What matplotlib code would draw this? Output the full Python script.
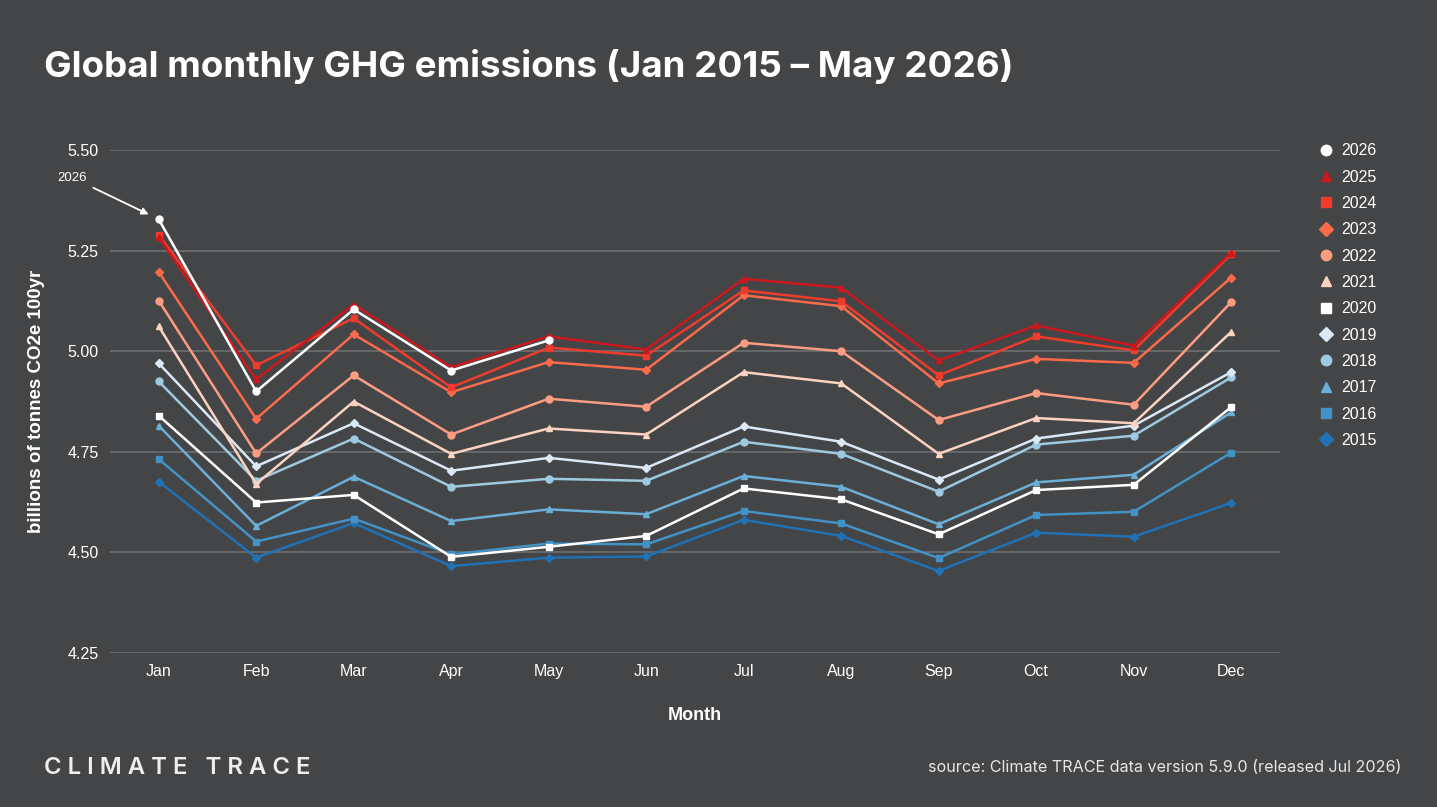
#!/usr/bin/env python3
"""
Global monthly GHG emissions by year, Climate TRACE style dark chart
"""

import matplotlib
matplotlib.use('Agg')
import matplotlib.pyplot as plt

# Data (billions of tonnes CO2e 100yr)
months = ['Jan', 'Feb', 'Mar', 'Apr', 'May', 'Jun', 'Jul', 'Aug', 'Sep', 'Oct', 'Nov', 'Dec']

y2026 = [5.328, 4.900, 5.104, 4.952, 5.027]
y2025 = [5.283, 4.930, 5.116, 4.960, 5.037, 5.004, 5.180, 5.158, 4.977, 5.064, 5.014, 5.245]
y2024 = [5.289, 4.965, 5.082, 4.910, 5.009, 4.989, 5.151, 5.124, 4.940, 5.037, 5.002, 5.241]
y2023 = [5.197, 4.832, 5.042, 4.898, 4.973, 4.954, 5.139, 5.112, 4.920, 4.981, 4.971, 5.183]
y2022 = [5.126, 4.746, 4.940, 4.793, 4.882, 4.862, 5.021, 5.000, 4.829, 4.896, 4.867, 5.122]
y2021 = [5.062, 4.670, 4.875, 4.745, 4.808, 4.793, 4.948, 4.920, 4.745, 4.834, 4.821, 5.048]
y2020 = [4.840, 4.624, 4.643, 4.489, 4.514, 4.541, 4.659, 4.632, 4.545, 4.655, 4.668, 4.861]
y2019 = [4.970, 4.714, 4.821, 4.703, 4.735, 4.710, 4.813, 4.775, 4.681, 4.783, 4.815, 4.948]
y2018 = [4.925, 4.678, 4.783, 4.663, 4.683, 4.678, 4.775, 4.745, 4.651, 4.768, 4.790, 4.935]
y2017 = [4.815, 4.566, 4.688, 4.578, 4.607, 4.595, 4.690, 4.663, 4.570, 4.674, 4.693, 4.848]
y2016 = [4.732, 4.527, 4.584, 4.495, 4.522, 4.520, 4.603, 4.572, 4.486, 4.593, 4.601, 4.748]
y2015 = [4.676, 4.487, 4.573, 4.466, 4.487, 4.490, 4.581, 4.541, 4.454, 4.549, 4.539, 4.623]

years = ['2026', '2025', '2024', '2023', '2022', '2021',
         '2020', '2019', '2018', '2017', '2016', '2015']
series = [y2026, y2025, y2024, y2023, y2022, y2021,
          y2020, y2019, y2018, y2017, y2016, y2015]
colors = ['#ffffff', '#cb181d', '#ef3b2c', '#fb6a4a', '#fc9d82', '#fcd2c0',
          '#ffffff', '#dbe9f6', '#9ecae1', '#6baed6', '#4292c6', '#2171b5']
markers = ['o', '^', 's', 'D'] * 3

BG = '#444547'
TXT = '#ffffff'

plt.rcParams['font.family'] = ['Liberation Sans', 'DejaVu Sans']

fig = plt.figure(figsize=(14.37, 8.07), dpi=100, facecolor=BG)
ax = fig.add_axes([0.0765, 0.1908, 0.8142, 0.6233], facecolor=BG)

# draw oldest first so recent years sit on top
for yr, vals, c, m in reversed(list(zip(years, series, colors, markers))):
    ax.plot(range(len(vals)), vals, color=c, marker=m, markersize=5 if m != 'D' else 4.5,
            linewidth=1.8, label=yr, zorder=3)

ax.set_xlim(-0.5, 11.5)
ax.set_ylim(4.25, 5.50)
ax.set_yticks([4.25, 4.50, 4.75, 5.00, 5.25, 5.50])
ax.set_yticklabels([f'{v:.2f}' for v in [4.25, 4.50, 4.75, 5.00, 5.25, 5.50]])
ax.set_xticks(range(12))
ax.set_xticklabels(months)
ax.tick_params(axis='both', length=0, colors=TXT, labelsize=11.5)
ax.tick_params(axis='y', pad=8)
ax.tick_params(axis='x', pad=8)
ax.grid(True, axis='y', color='#6e6f71', linewidth=1.2, zorder=0)
for s in ax.spines.values():
    s.set_visible(False)

ax.set_xlabel('Month', color=TXT, fontsize=13, fontweight='bold', labelpad=20)
ax.set_ylabel('billions of tonnes CO2e 100yr', color=TXT, fontsize=13.5,
              fontweight='bold', labelpad=16)

# legend in 2026 -> 2015 order
handles, labels = ax.get_legend_handles_labels()
leg = ax.legend(handles[::-1], labels[::-1], loc='upper left', bbox_to_anchor=(1.022, 1.042),
                frameon=False, labelcolor=TXT, fontsize=11.5, handlelength=0.8,
                handletextpad=0.5, labelspacing=0.71, markerscale=1.5)
for h in leg.legend_handles:
    h.set_linestyle('none')

# annotation for latest year
ax.annotate('2026', xy=(0, y2026[0]), xytext=(-73, 30), textcoords='offset points',
            color=TXT, fontsize=9.5, ha='left', va='center',
            arrowprops=dict(arrowstyle='-|>', color=TXT, lw=1.3,
                            shrinkA=3, shrinkB=8, mutation_scale=10))

fig.text(44 / 1437, 1 - 67 / 807, 'Global monthly GHG emissions (Jan 2015 \u2013 May 2026)',
         color=TXT, fontsize=26.5, fontweight='bold', family=['Inter', 'DejaVu Sans'],
         ha='left', va='center')

fig.text(44 / 1437, 1 - 768 / 807, 'C L I M A T E   T R A C E', color='#eeeeee',
         fontsize=17.2, fontweight='semibold', family=['Inter', 'DejaVu Sans'],
         ha='left', va='center')
fig.text(1401 / 1437, 1 - 767 / 807,
         'source: Climate TRACE data version 5.9.0 (released Jul 2026)',
         color='#e6e6e6', fontsize=11.6, family=['Inter', 'DejaVu Sans'],
         ha='right', va='center')

plt.savefig('out.png', dpi=100, facecolor=BG)
plt.close()
